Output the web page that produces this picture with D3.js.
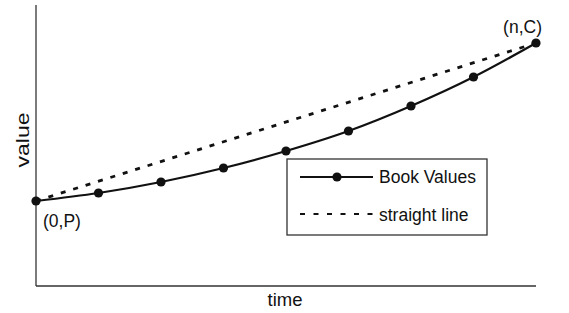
<!DOCTYPE html>
<html>
<head>
<meta charset="utf-8">
<script src="https://cdn.jsdelivr.net/npm/d3@7"></script>
<style>
  body { margin: 0; background: #fff; }
  svg text { font-family: "Liberation Sans", Arial, sans-serif; fill: #111; }
</style>
</head>
<body>
<svg id="chart" width="569" height="313"></svg>
<script>
(function(){
  // periods 0..n
  var periods = [0, 1, 2, 3, 4, 5, 6, 7, 8];
  var bookValues = [85, 93, 104, 118, 135, 155, 180, 209, 243];
  var straightLine = [85, 243];
  var legendLabels = ['Book Values', 'straight line'];

  var svg = d3.select('#chart');
  var x = d3.scaleLinear().domain([0, 8]).range([36, 536]);
  var y = d3.scaleLinear().domain([0, 281]).range([286, 5]);

  // axes
  svg.append('line')
    .attr('x1', x(0)).attr('x2', x(0))
    .attr('y1', y(281)).attr('y2', y(0))
    .attr('stroke', '#333').attr('stroke-width', 1.3);
  svg.append('line')
    .attr('x1', x(0)).attr('x2', x(8))
    .attr('y1', y(0)).attr('y2', y(0))
    .attr('stroke', '#333').attr('stroke-width', 1.3);

  // straight line
  svg.append('line')
    .attr('x1', x(0)).attr('y1', y(straightLine[0]))
    .attr('x2', x(8)).attr('y2', y(straightLine[1]))
    .attr('stroke', '#111').attr('stroke-width', 2.8)
    .attr('stroke-dasharray', '5,8');

  // book values
  var line = d3.line()
    .x(function(d, i) { return x(periods[i]); })
    .y(function(d) { return y(d); })
    .curve(d3.curveMonotoneX);

  svg.append('path')
    .datum(bookValues)
    .attr('d', line)
    .attr('fill', 'none')
    .attr('stroke', '#111')
    .attr('stroke-width', 2.2);

  svg.append('g')
    .selectAll('circle')
    .data(bookValues)
    .enter()
    .append('circle')
    .attr('cx', function(d, i) { return x(periods[i]); })
    .attr('cy', function(d) { return y(d); })
    .attr('r', 4.6)
    .attr('fill', '#111');

  // point labels
  svg.append('text')
    .attr('x', x(0) + 7).attr('y', y(bookValues[0]) + 26)
    .attr('font-size', 17.5).text('(0,P)');
  svg.append('text')
    .attr('x', x(8) + 6).attr('y', y(bookValues[8]) - 10)
    .attr('text-anchor', 'end')
    .attr('font-size', 17.5).text('(n,C)');

  // axis titles
  svg.append('text')
    .attr('x', 285).attr('y', 306)
    .attr('text-anchor', 'middle')
    .attr('font-size', 18.5).text('time');
  svg.append('text')
    .attr('transform', 'translate(29,140) rotate(-90)')
    .attr('text-anchor', 'middle')
    .attr('font-size', 18)
    .attr('textLength', 55)
    .attr('lengthAdjust', 'spacingAndGlyphs')
    .text('value');

  // legend
  var lg = svg.append('g').attr('transform', 'translate(287,159)');
  lg.append('rect')
    .attr('width', 200).attr('height', 76)
    .attr('fill', '#fff')
    .attr('stroke', '#333').attr('stroke-width', 1.3);
  lg.append('line')
    .attr('x1', 13).attr('x2', 86).attr('y1', 18).attr('y2', 18)
    .attr('stroke', '#111').attr('stroke-width', 2.2);
  lg.append('circle')
    .attr('cx', 50).attr('cy', 18).attr('r', 4.6).attr('fill', '#111');
  lg.append('line')
    .attr('x1', 13).attr('x2', 86).attr('y1', 55).attr('y2', 55)
    .attr('stroke', '#111').attr('stroke-width', 2.2)
    .attr('stroke-dasharray', '5,8.5');
  lg.selectAll('text.leg')
    .data(legendLabels)
    .enter()
    .append('text')
    .attr('class', 'leg')
    .attr('x', 92)
    .attr('y', function(d, i) { return 24 + i * 38; })
    .attr('font-size', 17.5)
    .text(function(d) { return d; });
})();
</script>
</body>
</html>
